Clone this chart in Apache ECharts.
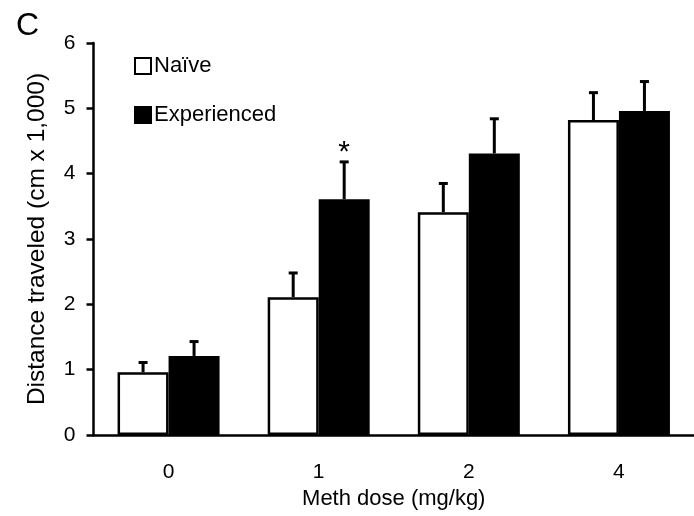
<!DOCTYPE html>
<html>
<head>
<meta charset="utf-8">
<script src="https://cdn.jsdelivr.net/npm/echarts@6/dist/echarts.min.js"></script>
<style>html,body{margin:0;padding:0;background:#fff}#c{width:694px;height:516px}</style>
</head>
<body>
<div id="c"></div>
<script>
// ---- data ----
var categories = ['0', '1', '2', '4'];
var naiveMean = [0.96, 2.11, 3.41, 4.82];
var naiveErr = [0.15, 0.37, 0.44, 0.42];
var expMean = [1.21, 3.61, 4.31, 4.96];
var expErr = [0.22, 0.57, 0.53, 0.45];
var significance = ['', '*', '', ''];
var yTicks = [0, 1, 2, 3, 4, 5, 6];

var FONT = '"Liberation Sans", Arial, sans-serif';
var BAR_W = 51;

function errData(means, errs) {
  return means.map(function (m, i) { return [i, m, errs[i]]; });
}

function makeErrRender(dir, sigArr) {
  return function (params, api) {
    var i = api.value(0), m = api.value(1), e = api.value(2);
    var sig = sigArr ? sigArr[params.dataIndex] : '';
    var p0 = api.coord([i, m]);
    var p1 = api.coord([i, m + e]);
    var x = p0[0] + dir * BAR_W / 2;
    var children = [
      { type: 'line', shape: { x1: x, y1: p0[1], x2: x, y2: p1[1] }, style: { stroke: '#000', lineWidth: 3 } },
      { type: 'line', shape: { x1: x - 4.5, y1: p1[1], x2: x + 4.5, y2: p1[1] }, style: { stroke: '#000', lineWidth: 3 } }
    ];
    if (sig) {
      children.push({ type: 'text', x: x, y: p1[1] + 6,
        style: { text: sig, align: 'center', verticalAlign: 'bottom', fontSize: 30, fontFamily: FONT, fill: '#000' } });
    }
    return { type: 'group', children: children };
  };
}

var chart = echarts.init(document.getElementById('c'));
chart.setOption({
  animation: false,
  backgroundColor: '#fff',
  title: { text: 'C', left: 11, top: 5, textStyle: { fontFamily: FONT, fontSize: 32, fontWeight: 'normal', color: '#000' } },
  legend: {
    data: ['Naïve', 'Experienced'],
    orient: 'vertical', left: 129, top: 50,
    itemWidth: 16, itemHeight: 16, itemGap: 27,
    icon: 'rect',
    textStyle: { fontFamily: FONT, fontSize: 22, color: '#000', padding: [0, 0, 0, -2] }
  },
  grid: { left: 93.5, right: -7, top: 43, bottom: 81 },
  xAxis: {
    type: 'category', data: categories,
    name: 'Meth dose (mg/kg)', nameLocation: 'middle', nameGap: 53,
    nameTextStyle: { fontFamily: FONT, fontSize: 22, color: '#000' },
    axisLine: { lineStyle: { color: '#000', width: 2.5 } },
    axisTick: { alignWithLabel: false, length: 9, lineStyle: { color: '#000', width: 2.5 } },
    axisLabel: { fontFamily: FONT, fontSize: 21, color: '#000', margin: 27 }
  },
  yAxis: {
    type: 'value', min: yTicks[0], max: yTicks[yTicks.length - 1], interval: 1,
    name: 'Distance traveled (cm x 1,000)', nameLocation: 'middle', nameGap: 44, nameRotate: 90,
    nameTextStyle: { fontFamily: FONT, fontSize: 24.5, color: '#000' },
    splitLine: { show: false },
    axisLine: { show: true, lineStyle: { color: '#000', width: 2.5 } },
    axisTick: { show: true, length: 7, lineStyle: { color: '#000', width: 2.5 } },
    axisLabel: { fontFamily: FONT, fontSize: 21, color: '#000', margin: 18 }
  },
  series: [
    { name: 'Naïve', type: 'bar', data: naiveMean, barWidth: BAR_W, barGap: '0%',
      itemStyle: { color: '#fff', borderColor: '#000', borderWidth: 2.5 } },
    { name: 'Experienced', type: 'bar', data: expMean, barWidth: BAR_W, barGap: '0%',
      itemStyle: { color: '#000', borderColor: '#000', borderWidth: 2.5 } },
    { type: 'custom', name: 'naiveErr', data: errData(naiveMean, naiveErr), renderItem: makeErrRender(-1, null), z: 5 },
    { type: 'custom', name: 'expErr', data: errData(expMean, expErr), renderItem: makeErrRender(1, significance), z: 5 }
  ]
});
</script>
</body>
</html>
